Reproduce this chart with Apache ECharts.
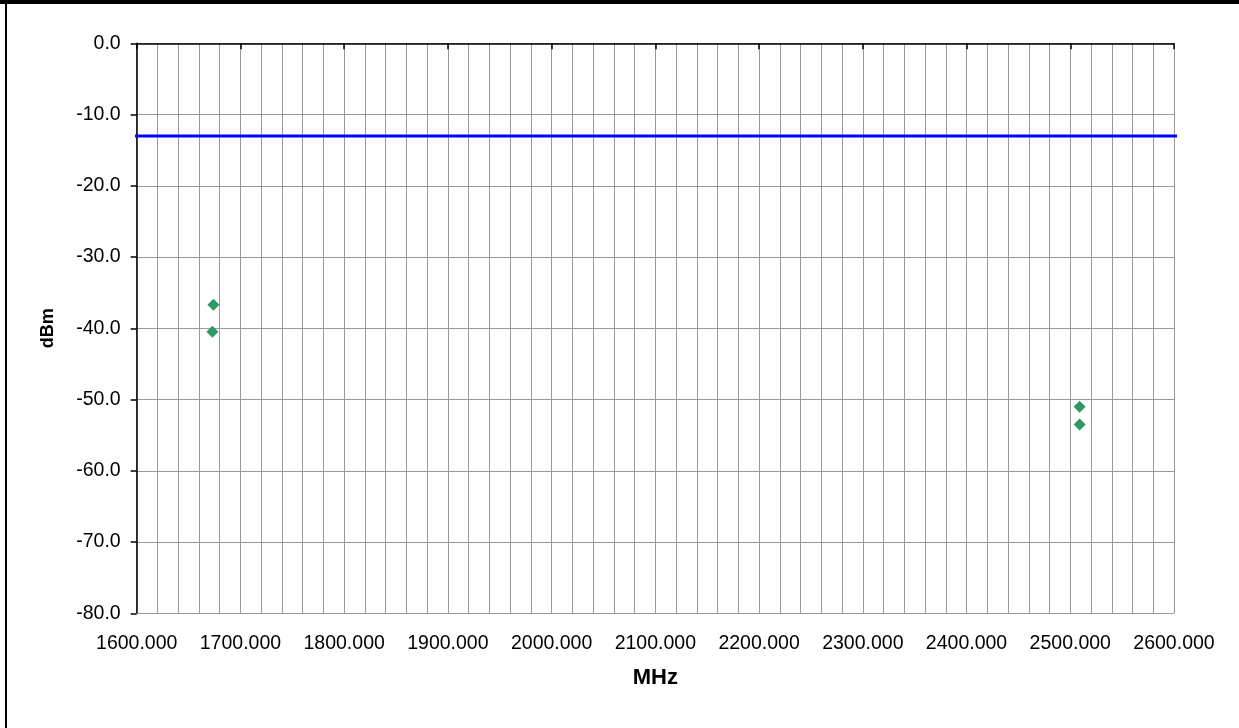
<!DOCTYPE html>
<html>
<head>
<meta charset="utf-8">
<script src="https://cdn.jsdelivr.net/npm/echarts@6/dist/echarts.min.js"></script>
<style>
html,body{margin:0;padding:0;background:#fff;}
#chart{width:1239px;height:728px;}
</style>
</head>
<body>
<div id="chart"></div>
<script>
const xMin = 1600, xMax = 2600;
const yMin = -80, yMax = 0;
const measuredPoints = [[1674, -36.7], [1673, -40.5], [2509, -51.0], [2509, -53.5]];
const limitLine = [[1595, -13.0], [2606, -13.0]];

const chart = echarts.init(document.getElementById('chart'));
const FONT = 'Liberation Sans, Arial, sans-serif';
chart.setOption({
  animation: false,
  backgroundColor: '#fff',
  grid: { left: 136.7, right: 65, top: 43.3, bottom: 114.7, containLabel: false },
  xAxis: [{
    type: 'value', min: xMin, max: xMax, interval: 20, position: 'bottom',
    name: 'MHz', nameLocation: 'middle', nameGap: 54,
    nameTextStyle: { fontFamily: FONT, fontSize: 22, fontWeight: 'bold', color: '#000' },
    axisLine: { show: true, onZero: false, lineStyle: { color: '#999', width: 1 } },
    axisTick: { show: false },
    axisLabel: {
      margin: 20, fontFamily: FONT, fontSize: 19.5, color: '#000', showMinLabel: true, showMaxLabel: true,
      formatter: v => (Math.round(v) % 100 === 0 ? v.toFixed(3) : '')
    },
    splitLine: { show: true, lineStyle: { color: '#999', width: 1 } }
  }, {
    type: 'value', min: xMin, max: xMax, interval: 100, position: 'top',
    axisLine: { show: true, onZero: false, lineStyle: { color: '#000', width: 1.5 } },
    axisTick: { show: true, inside: true, length: 6, lineStyle: { color: '#000', width: 1.5 } },
    axisLabel: { show: false },
    splitLine: { show: false }
  }],
  yAxis: {
    type: 'value', min: yMin, max: yMax, interval: 10,
    name: 'dBm', nameLocation: 'middle', nameGap: 80, nameRotate: 90,
    nameTextStyle: { fontFamily: FONT, fontSize: 18, fontWeight: 'bold', color: '#000' },
    axisLine: { show: true, onZero: false, lineStyle: { color: '#000', width: 1.5 } },
    axisTick: { show: true, length: 6, lineStyle: { color: '#000', width: 1.5 } },
    axisLabel: { margin: 16, fontFamily: FONT, fontSize: 19.5, color: '#000', formatter: v => v.toFixed(1) },
    splitLine: { show: true, lineStyle: { color: '#999', width: 1 } }
  },
  graphic: [
    { type: 'rect', shape: { x: 0, y: 0, width: 1239, height: 4 }, style: { fill: '#000' }, silent: true },
    { type: 'rect', shape: { x: 5, y: 0, width: 2, height: 728 }, style: { fill: '#000' }, silent: true }
  ],
  series: [{
    type: 'line', data: limitLine, xAxisIndex: 0, clip: false, symbol: 'none',
    lineStyle: { color: '#0000ff', width: 3 }, z: 3
  }, {
    type: 'scatter', data: measuredPoints, xAxisIndex: 0, symbol: 'diamond', symbolSize: 12,
    itemStyle: { color: '#2e9962', opacity: 1 }, z: 4
  }]
});
</script>
</body>
</html>
